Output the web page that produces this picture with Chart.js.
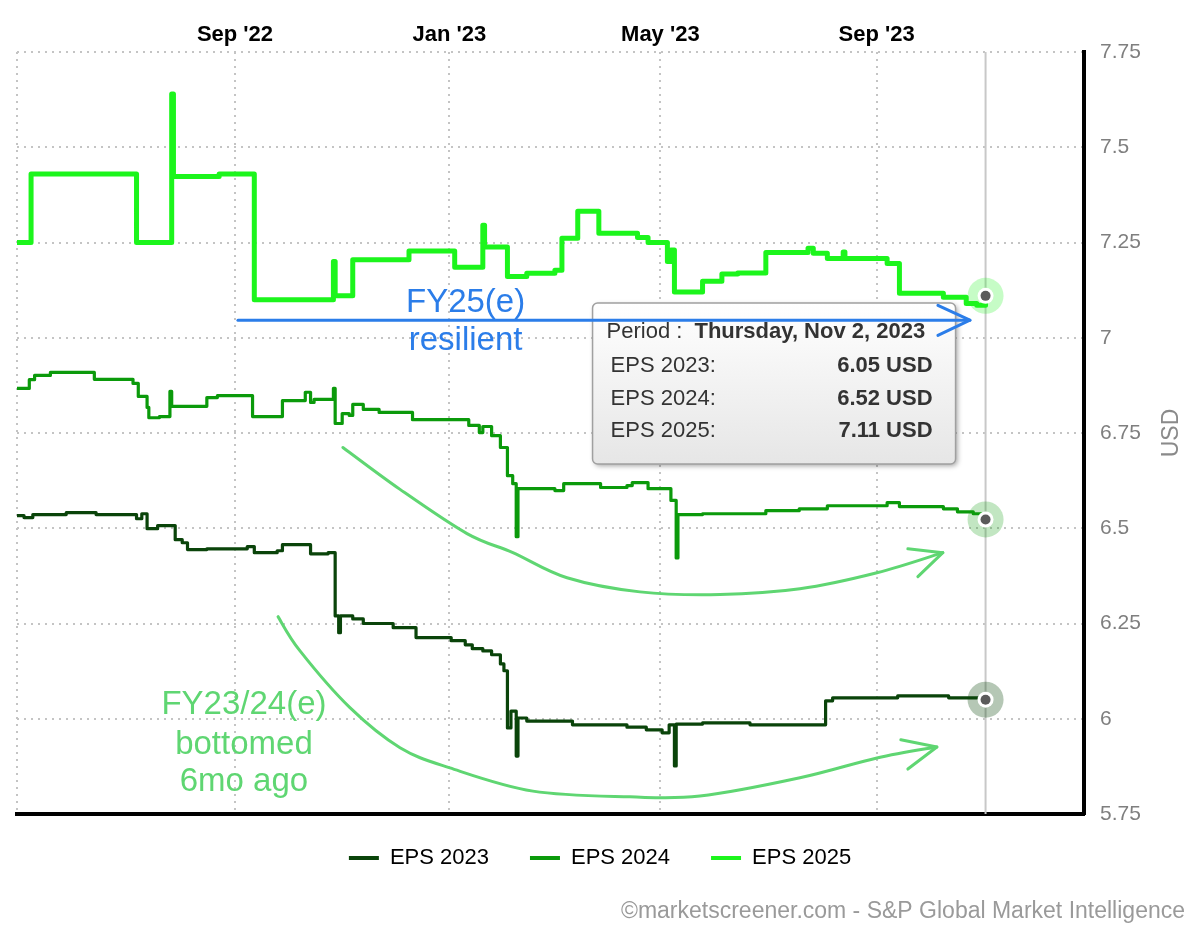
<!DOCTYPE html>
<html>
<head>
<meta charset="utf-8">
<title>EPS 2023 / 2024 / 2025</title>
<script src="https://cdn.jsdelivr.net/npm/chart.js@4.4.0/dist/chart.umd.min.js"></script>
<style>
  html, body { margin: 0; padding: 0; background: #fff; }
  #wrap { width: 1200px; height: 942px; }
</style>
</head>
<body>
<div id="wrap"><canvas id="myChart" width="1200" height="942"></canvas></div>
<script>
// los dias se cuentan desde el 1 de mayo de 2022
const BASE = Date.UTC(2022, 4, 1);
const dayOf = (s) => Math.round((Date.parse(s + 'T00:00:00Z') - BASE) / 86400000);

// ejes
const xTickDates = ['2022-09-01', '2023-01-01', '2023-05-01', '2023-09-01'];
const xTickLabels = ["Sep '22", "Jan '23", "May '23", "Sep '23"];
const yTicks = [5.75, 6, 6.25, 6.5, 6.75, 7, 7.25, 7.5, 7.75];

const seriesNames = ['EPS 2023', 'EPS 2024', 'EPS 2025'];
const seriesColors = ['#0a440a', '#0b9a0b', '#1cf51c'];
const haloColors = ['rgba(10,68,10,0.3)', 'rgba(11,154,11,0.25)', 'rgba(28,245,28,0.25)'];

// EPS 2025 (cada punto = nuevo valor desde ese dia)
const eps2025Days = [-1, 7, 67, 87, 88, 114, 134, 179, 180, 190, 222, 248, 264, 265, 278, 289, 305, 309, 318, 330,
  352, 358, 369, 371, 373, 389, 400, 409, 425, 449, 452, 460, 469, 470, 494, 501, 526, 539, 545, 550];
const eps2025 = [7.25, 7.43, 7.25, 7.64, 7.423, 7.43, 7.10, 7.20, 7.11, 7.205, 7.228, 7.185, 7.295, 7.238, 7.161, 7.169, 7.177, 7.261, 7.332, 7.274,
  7.263, 7.25, 7.20, 7.23, 7.12, 7.148, 7.167, 7.17, 7.224, 7.235, 7.222, 7.208, 7.225, 7.208, 7.195, 7.117, 7.106, 7.09, 7.085, 7.11];

// EPS 2024
const eps2024Days = [-1, 6, 9, 18, 43, 65, 68, 73, 74, 80, 86, 87, 107, 113, 133, 150, 163, 166, 168, 179,
  180, 184, 188, 190, 196, 205, 224, 256, 262, 264, 269, 274, 278, 281, 283, 284, 305, 310, 331, 346,
  349, 358, 371, 374, 375, 389, 425, 444, 460, 494, 501, 526, 534, 543, 550];
const eps2024 = [6.867, 6.89, 6.901, 6.909, 6.891, 6.88, 6.846, 6.817, 6.79, 6.793, 6.859, 6.82, 6.843, 6.848, 6.793, 6.835, 6.857, 6.83, 6.838, 6.867,
  6.775, 6.801, 6.796, 6.825, 6.812, 6.804, 6.785, 6.77, 6.751, 6.767, 6.743, 6.712, 6.638, 6.617, 6.478, 6.604, 6.599, 6.617, 6.607, 6.612,
  6.62, 6.604, 6.573, 6.422, 6.536, 6.538, 6.546, 6.551, 6.559, 6.567, 6.557, 6.551, 6.543, 6.538, 6.523];

// EPS 2023
const eps2023Days = [-1, 3, 8, 27, 44, 67, 70, 73, 79, 89, 93, 96, 107, 130, 134, 147, 150, 166, 176, 180,
  182, 183, 190, 196, 213, 226, 246, 254, 258, 264, 269, 274, 276, 278, 280, 283, 284, 289, 315, 346,
  357, 366, 370, 373, 374, 389, 416, 459, 463, 500, 529, 550];
const eps2023 = [6.533, 6.528, 6.536, 6.541, 6.536, 6.525, 6.538, 6.499, 6.507, 6.47, 6.462, 6.444, 6.446, 6.452, 6.436, 6.441, 6.457, 6.433, 6.436, 6.27,
  6.226, 6.27, 6.262, 6.25, 6.239, 6.213, 6.205, 6.194, 6.184, 6.178, 6.168, 6.144, 6.126, 5.976, 6.02, 5.902, 6.002, 5.994, 5.984, 5.978,
  5.971, 5.963, 5.984, 5.876, 5.986, 5.989, 5.984, 6.047, 6.055, 6.06, 6.055, 6.05];

// anotaciones dibujadas a mano (en unidades de dia / USD)
const blueArrow = [[124.7, 7.046], [541.1, 7.046]];
const blueHead = [[522.9, 7.085], [541.1, 7.046], [522.9, 7.006]];
const curveTop = [[184.4, 6.712], [216.9, 6.602], [255, 6.486], [281.1, 6.436], [311.9, 6.37], [353.4, 6.333],
  [398.9, 6.326], [444.4, 6.341], [488.2, 6.383], [525.7, 6.436]];
const curveTopHead = [[505.8, 6.446], [525.7, 6.436], [511.5, 6.373]];
const curveLow = [[147.5, 6.268], [160, 6.178], [188.4, 6.029], [216.9, 5.924], [245.3, 5.871], [292.5, 5.81],
  [347.7, 5.795], [387.5, 5.797], [444.4, 5.845], [488.2, 5.897], [522.3, 5.926]];
const curveLowHead = [[501.8, 5.945], [522.3, 5.926], [505.8, 5.868]];
const blueText = [['FY25(e)', 254.2, 7.067], ['resilient', 254.2, 6.967]];
const greenText = [['FY23/24(e)', 128.1, 6.013], ['bottomed', 128.1, 5.908], ['6mo ago', 128.1, 5.81]];

const allDays = [eps2023Days, eps2024Days, eps2025Days];
const allVals = [eps2023, eps2024, eps2025];
const lastDay = eps2025Days[eps2025Days.length - 1];
const FONT = "'Liberation Sans', Arial, Helvetica, sans-serif";
Chart.defaults.font.family = FONT;

const dias = ['Sunday', 'Monday', 'Tuesday', 'Wednesday', 'Thursday', 'Friday', 'Saturday'];
const meses = ['Jan', 'Feb', 'Mar', 'Apr', 'May', 'Jun', 'Jul', 'Aug', 'Sep', 'Oct', 'Nov', 'Dec'];
function fechaLarga(d) {
  const f = new Date(BASE + d * 86400000);
  return dias[f.getUTCDay()] + ', ' + meses[f.getUTCMonth()] + ' ' + f.getUTCDate() + ', ' + f.getUTCFullYear();
}

function toPx(chart, p) {
  return [chart.scales.x.getPixelForValue(p[0]), chart.scales.y.getPixelForValue(p[1])];
}

function smoothPath(ctx, pts) {
  ctx.moveTo(pts[0][0], pts[0][1]);
  for (let i = 0; i < pts.length - 1; i++) {
    const p0 = pts[i - 1] || pts[i], p1 = pts[i], p2 = pts[i + 1], p3 = pts[i + 2] || p2;
    ctx.bezierCurveTo(p1[0] + (p2[0] - p0[0]) / 6, p1[1] + (p2[1] - p0[1]) / 6,
      p2[0] - (p3[0] - p1[0]) / 6, p2[1] - (p3[1] - p1[1]) / 6, p2[0], p2[1]);
  }
}

function polyline(ctx, pts) {
  ctx.moveTo(pts[0][0], pts[0][1]);
  pts.slice(1).forEach(p => ctx.lineTo(p[0], p[1]));
}

const marcas = {
  id: 'marcas',
  afterLayout(chart) {
    // acercar la leyenda al grafico
    chart.legend.top -= 12;
    chart.legend.bottom -= 12;
  },
  beforeDatasetsDraw(chart) {
    const {ctx, chartArea, scales} = chart;
    const cx = scales.x.getPixelForValue(lastDay);
    ctx.save();
    ctx.strokeStyle = '#c8c8c8';
    ctx.lineWidth = 2;
    ctx.beginPath();
    ctx.moveTo(cx, chartArea.top);
    ctx.lineTo(cx, chartArea.bottom);
    ctx.stroke();
    ctx.restore();
  },
  afterDatasetsDraw(chart) {
    const {ctx, chartArea, scales} = chart;
    ctx.save();

    // halos y puntos del ultimo dia
    chart.data.datasets.forEach((ds, i) => {
      const meta = chart.getDatasetMeta(i);
      const pt = meta.data[meta.data.length - 1];
      ctx.fillStyle = haloColors[i];
      ctx.beginPath(); ctx.arc(pt.x, pt.y, 18, 0, Math.PI * 2); ctx.fill();
      ctx.fillStyle = '#fff';
      ctx.beginPath(); ctx.arc(pt.x, pt.y, 8, 0, Math.PI * 2); ctx.fill();
      ctx.fillStyle = '#5a5a5a';
      ctx.beginPath(); ctx.arc(pt.x, pt.y, 5, 0, Math.PI * 2); ctx.fill();
    });

    // cuadro tipo tooltip
    const cx = scales.x.getPixelForValue(lastDay);
    const bx = cx - 393, by = chartArea.top + 251, bw = 363, bh = 161;
    ctx.save();
    ctx.shadowColor = 'rgba(0,0,0,0.35)';
    ctx.shadowBlur = 5;
    ctx.shadowOffsetX = 2;
    ctx.shadowOffsetY = 2;
    const grad = ctx.createLinearGradient(0, by, 0, by + bh);
    grad.addColorStop(0, '#ffffff');
    grad.addColorStop(1, '#e6e6e6');
    ctx.fillStyle = grad;
    ctx.beginPath(); ctx.roundRect(bx, by, bw, bh, 5); ctx.fill();
    ctx.restore();
    ctx.strokeStyle = '#a0a0a0';
    ctx.lineWidth = 1.5;
    ctx.beginPath(); ctx.roundRect(bx, by, bw, bh, 5); ctx.stroke();

    ctx.fillStyle = '#333';
    ctx.textBaseline = 'alphabetic';
    ctx.textAlign = 'left';
    ctx.font = '22px ' + FONT;
    ctx.fillText('Period : ', bx + 14, by + 35);
    const w0 = ctx.measureText('Period : ').width;
    ctx.font = 'bold 22px ' + FONT;
    ctx.fillText(fechaLarga(lastDay), bx + 14 + w0 + 6, by + 35);
    seriesNames.forEach((n, i) => {
      const yy = by + 69 + i * 32.5;
      const vals = allVals[i];
      ctx.textAlign = 'left';
      ctx.font = '22px ' + FONT;
      ctx.fillText(n + ':', bx + 18, yy);
      ctx.textAlign = 'right';
      ctx.font = 'bold 22px ' + FONT;
      ctx.fillText(vals[vals.length - 1].toFixed(2) + ' USD', bx + 340, yy);
    });

    // flecha azul y texto
    ctx.lineCap = 'round';
    ctx.lineJoin = 'round';
    ctx.strokeStyle = '#2b7de9';
    ctx.lineWidth = 3;
    ctx.beginPath(); polyline(ctx, blueArrow.map(p => toPx(chart, p))); ctx.stroke();
    ctx.beginPath(); polyline(ctx, blueHead.map(p => toPx(chart, p))); ctx.stroke();
    ctx.fillStyle = '#2b7de9';
    ctx.textAlign = 'center';
    ctx.font = '33px ' + FONT;
    blueText.forEach(t => { const p = toPx(chart, [t[1], t[2]]); ctx.fillText(t[0], p[0], p[1]); });

    // flechas verdes y texto
    ctx.strokeStyle = '#5fd672';
    ctx.lineWidth = 3;
    [[curveTop, curveTopHead], [curveLow, curveLowHead]].forEach(([c, h]) => {
      ctx.beginPath(); smoothPath(ctx, c.map(p => toPx(chart, p))); ctx.stroke();
      ctx.beginPath(); polyline(ctx, h.map(p => toPx(chart, p))); ctx.stroke();
    });
    ctx.fillStyle = '#5fd672';
    greenText.forEach(t => { const p = toPx(chart, [t[1], t[2]]); ctx.fillText(t[0], p[0], p[1]); });

    ctx.restore();
  },
  afterDraw(chart) {
    const {ctx, chartArea} = chart;
    ctx.save();
    // titulo del eje y
    ctx.translate(chart.width - 28, (chartArea.top + chartArea.bottom) / 2);
    ctx.rotate(-Math.PI / 2);
    ctx.fillStyle = '#8a8a8a';
    ctx.font = '23px ' + FONT;
    ctx.textAlign = 'center';
    ctx.textBaseline = 'middle';
    ctx.fillText('USD', 0, 0);
    ctx.restore();

    ctx.save();
    ctx.fillStyle = '#9a9a9a';
    ctx.font = '23px ' + FONT;
    ctx.textAlign = 'right';
    ctx.textBaseline = 'alphabetic';
    ctx.fillText('\u00A9marketscreener.com - S&P Global Market Intelligence', chart.width - 15, 918);
    ctx.restore();
  }
};

const datasets = seriesNames.map((name, i) => ({
  label: name,
  data: allDays[i].map((d, j) => ({x: d, y: allVals[i][j]})),
  borderColor: seriesColors[i],
  backgroundColor: seriesColors[i],
  borderWidth: i === 2 ? 5 : 3.2,
  stepped: true,
  pointRadius: 0,
  fill: false,
  borderJoinStyle: 'round',
  borderCapStyle: 'round'
}));

const config = {
  type: 'line',
  data: { datasets },
  options: {
    responsive: false,
    animation: false,
    events: [],
    layout: { padding: { left: 17, right: 17, top: 0, bottom: 51 } },
    scales: {
      x: {
        type: 'linear',
        position: 'top',
        min: -1,
        max: 606,
        afterBuildTicks: (s) => { s.ticks = [{value: -1}].concat(xTickDates.map(d => ({value: dayOf(d)}))); },
        afterFit: (s) => { s.height = 52; },
        ticks: {
          autoSkip: false,
          maxRotation: 0,
          padding: 4,
          color: '#000',
          font: { size: 22, weight: 'bold' },
          callback: (v) => {
            const k = xTickDates.findIndex(d => dayOf(d) === v);
            return k < 0 ? '' : xTickLabels[k];
          }
        },
        grid: { color: '#c4c4c4', lineWidth: 2, drawTicks: false },
        border: { display: false, dash: [2, 5] }
      },
      x2: {
        type: 'linear',
        position: 'bottom',
        min: -1,
        max: 606,
        afterFit: (s) => { s.height = 4; },
        ticks: { display: false },
        grid: { display: false, drawTicks: false },
        border: { display: true, color: '#000', width: 4 }
      },
      y: {
        position: 'right',
        min: 5.75,
        max: 7.75,
        afterBuildTicks: (s) => { s.ticks = yTicks.map(v => ({value: v})); },
        afterFit: (s) => { s.width = 99; },
        ticks: {
          padding: 16,
          color: '#7f7f7f',
          font: { size: 21 },
          callback: (v) => String(+v.toFixed(2))
        },
        grid: { color: '#c4c4c4', lineWidth: 2, drawTicks: false },
        border: { display: true, color: '#000', width: 4, dash: [2, 5] }
      }
    },
    plugins: {
      tooltip: { enabled: false },
      legend: {
        position: 'bottom',
        labels: {
          boxWidth: 30,
          boxHeight: 4,
          padding: 41,
          color: '#333',
          font: { size: 22 },
          generateLabels: (chart) => chart.data.datasets.map((ds, i) => ({
            text: ds.label,
            fillStyle: ds.borderColor,
            strokeStyle: ds.borderColor,
            lineWidth: 0,
            hidden: false,
            datasetIndex: i
          }))
        }
      }
    }
  },
  plugins: [marcas]
};

const myChart = new Chart(document.getElementById('myChart'), config);
</script>
</body>
</html>
